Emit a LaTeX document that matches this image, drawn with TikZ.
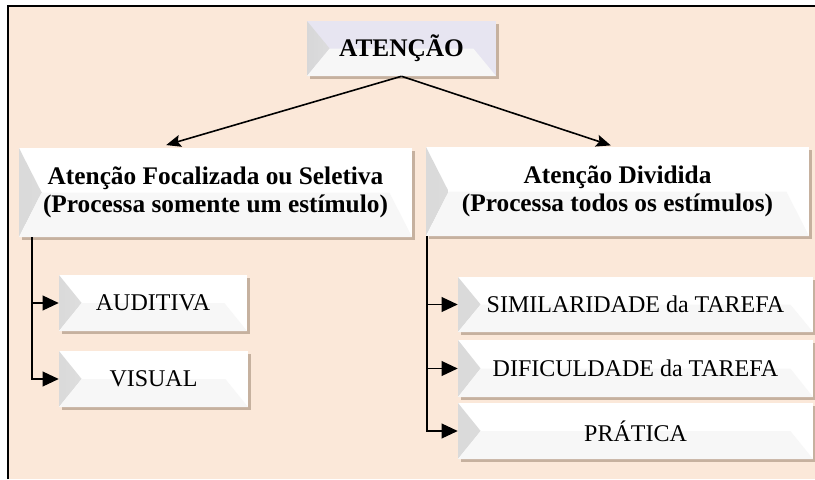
\documentclass[tikz,border=0pt]{standalone}
\usepackage{fontspec}
\setmainfont{Liberation Serif}
\usetikzlibrary{arrows.meta,shadows}
\definecolor{peach}{RGB}{251,232,217}
\definecolor{lilac}{RGB}{231,229,241}

\begin{document}
\begin{tikzpicture}[
    x=0.75pt,y=-0.75pt,
    bevel/.style={draw=none,fill=white,inner sep=0pt,align=center,
        drop shadow={shadow xshift=2pt,shadow yshift=-2.5pt,
                     fill=black!60!brown,opacity=.3},
        path picture={
            % left face of the bevel
            \fill[left color=black!16,right color=white,opacity=.9]
                (path picture bounding box.north west)
                -- ([xshift=17pt]path picture bounding box.west)
                -- (path picture bounding box.south west) -- cycle;
            % lower face
            \fill[black!3]
                ([xshift=17pt]path picture bounding box.west)
                -- ([xshift=-17pt]path picture bounding box.east)
                -- (path picture bounding box.south east)
                -- (path picture bounding box.south west) -- cycle;
        }},
    head/.style={bevel,fill=lilac,font={\fontsize{19}{21}\selectfont\bfseries}},
    branch/.style={bevel,font={\fontsize{19}{21}\selectfont\bfseries}},
    leaf/.style={bevel,font={\fontsize{18}{20}\selectfont}},
    link/.style={-{Stealth[length=11pt,width=9pt,inset=2pt]},line width=1.2pt},
    tree/.style={-{Triangle[length=12pt,width=11pt]},line width=1.2pt},
    ]
    \useasboundingbox (0,0) rectangle (815,479);
    % Background and frame
    \fill[peach] (8,6) rectangle (815,479);
    \draw[line width=1.6pt] (8,479) -- (8,6) -- (815,6);

    % Root
    \node[head,minimum width=141.75pt,minimum height=41.25pt]
        (atencao) at (401.5,48.5) {ATENÇÃO};

    % Two kinds of attention
    \node[branch,minimum width=294.75pt,minimum height=66.75pt]
        (focal) at (215.5,192.5)
        {Atenção Focalizada ou Seletiva\\(Processa somente um estímulo)};
    \node[branch,minimum width=287.25pt,minimum height=66.75pt]
        (divid) at (617.5,191.5)
        {Atenção Dividida\\(Processa todos os estímulos)};
    \draw[link] (atencao.south) -- ([xshift=-37pt,yshift=2pt]focal.north);
    \draw[link] (atencao.south) -- ([xshift=-5pt,yshift=1pt]divid.north);

    % Focalised: senses
    \node[leaf,minimum width=141pt,minimum height=42pt]
        (audit) at (153,303) {AUDITIVA};
    \node[leaf,minimum width=141.75pt,minimum height=42pt]
        (visual) at (153.5,379) {VISUAL};
    \draw[tree] ([xshift=10pt]focal.south west) |- (audit.west);
    \draw[tree] ([xshift=10pt]focal.south west) |- (visual.west);

    % Divided: factors
    \node[leaf,minimum width=266.25pt,minimum height=41.25pt]
        (simil) at (635.5,304.5) {SIMILARIDADE da TAREFA};
    \node[leaf,minimum width=266.25pt,minimum height=42.75pt]
        (dific) at (635.5,368.5) {DIFICULDADE da TAREFA};
    \node[leaf,minimum width=266.25pt,minimum height=42pt]
        (prat) at (635.5,431) {PRÁTICA};
    \draw[tree] ([xshift=0.75pt]divid.south west) |- (simil.west);
    \draw[tree] ([xshift=0.75pt]divid.south west) |- (dific.west);
    \draw[tree] ([xshift=0.75pt]divid.south west) |- (prat.west);
\end{tikzpicture}
\end{document}
